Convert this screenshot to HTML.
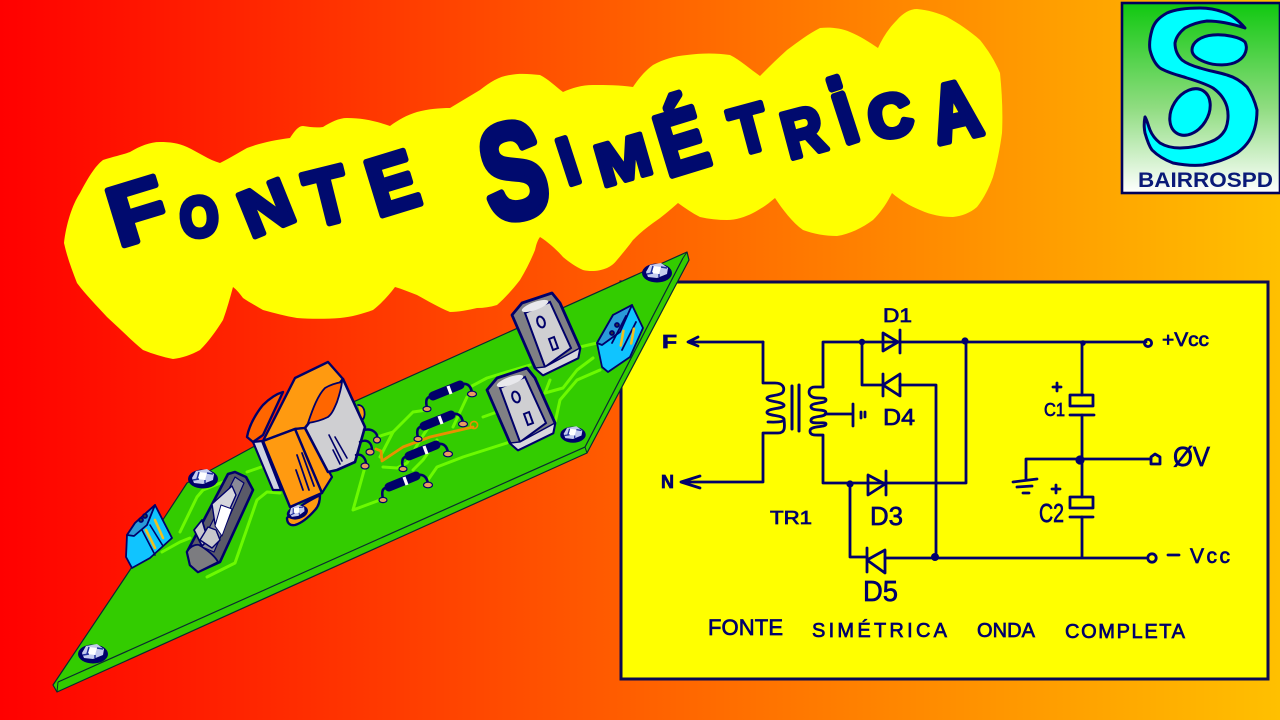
<!DOCTYPE html>
<html><head><meta charset="utf-8"><style>
html,body{margin:0;padding:0;width:1280px;height:720px;overflow:hidden}
svg{display:block}
.w{fill:none;stroke:#00006a;stroke-width:2.8;stroke-linecap:round;stroke-linejoin:round}
.n{fill:#00006a}
.h{font-family:"Liberation Sans",sans-serif;fill:#00006a;stroke:#00006a;stroke-width:.7}
.t{font-family:"Liberation Sans",sans-serif;font-weight:700;font-size:60px;text-anchor:middle;fill:#000a6e;stroke:#000a6e;stroke-width:5;stroke-linejoin:round}
.tr{fill:none;stroke:#6cfa00;stroke-width:3;stroke-linecap:round;stroke-linejoin:round}
.o{stroke:#00006a;stroke-width:1.8;stroke-linejoin:round;stroke-linecap:round}
</style></head><body>
<svg width="1280" height="720" viewBox="0 0 1280 720" xmlns="http://www.w3.org/2000/svg">
<defs>
<linearGradient id="bg" x1="0" x2="1" y1="0" y2="0"><stop offset="0" stop-color="#ff0000"/><stop offset="1" stop-color="#ffc000"/></linearGradient>
<linearGradient id="lg" x1="0" x2="0" y1="0" y2="1"><stop offset="0" stop-color="#10c810"/><stop offset=".55" stop-color="#8fdc80"/><stop offset="1" stop-color="#ffffff"/></linearGradient>
<g id="nut"><ellipse cx="0" cy="2" rx="15" ry="9.5" fill="#00006a"/><path d="M-11,1 L-7,-6 L4,-8 L11,-3 L10,3 L0,7 L-9,6Z" fill="#c4cbee"/><path d="M-4,-5 L4,-4 L2,3 L-6,2Z" fill="#fff"/><path d="M-10,3 L-4,2 M4,-4 L10,-3 M2,3 L2,6 M-4,-5 L-6,2" stroke="#2030a0" stroke-width="1.5" fill="none"/></g>
<g id="res"><path d="M-20,15 C-22,6 -20,4 -15,3 M13,-8 C19,-11 24,-8 25,0" fill="none" stroke="#00006a" stroke-width="2.6" stroke-linecap="round"/><ellipse cx="-20" cy="16" rx="4" ry="2.6" fill="#e89a60" stroke="#00006a" stroke-width="1.2"/><ellipse cx="25" cy="1" rx="4.5" ry="2.8" fill="#e89a60" stroke="#00006a" stroke-width="1.2"/><path d="M-14,3 L13,-8" stroke="#00006a" stroke-width="9" stroke-linecap="round"/><path d="M1,-7 L4,1" stroke="#fff" stroke-width="3.2"/></g>
<g id="cap"><path d="M-34,-19 L-24,-31 L6,-41 L14,-31 L34,14 L32,24 L-3,41 L-11,34Z" fill="#808084" stroke="#00006a" stroke-width="2.8" stroke-linejoin="round"/><path d="M-21,-21 L4,-32 L25,14 L-1,33Z" fill="#cfcfd2" stroke="#00006a" stroke-width="2"/><ellipse cx="-11" cy="-28" rx="14" ry="4" transform="rotate(-20 -11 -28)" fill="#e8e8ec"/><path d="M-11,34 L-3,41 L32,24 L34,14 L-1,33Z" fill="#d8d8dc" stroke="#00006a" stroke-width="1.4"/><ellipse cx="-5" cy="-12" rx="3.6" ry="5.6" transform="rotate(-20 -5 -12)" fill="none" stroke="#00006a" stroke-width="2"/><path d="M3,5 L8,3 L12,14 L7,16Z" fill="none" stroke="#00006a" stroke-width="2"/></g>
</defs>
<rect width="1280" height="720" fill="url(#bg)"/>

<!-- yellow blob -->
<path fill="#ffff00" d="M64,243 C66,225 72,205 80,193 C88,178 95,166 103,160 C115,156 122,155 130,152 C140,146 150,142 160,142 C170,142 178,143 187,147 C198,152 209,160 220,163 C230,158 238,153 247,148 C260,143 275,140 290,138 C294,132 298,126 303,126 C310,127 316,128 323,127 C331,122 339,118 347,118 C362,118 376,121 390,126 C398,120 407,115 417,112 C428,109 440,108 450,108 C460,102 470,96 480,90 C490,82 500,76 510,75 C520,73 530,74 540,75 C548,79 555,86 563,92 C572,88 582,85 593,85 C606,85 620,85 633,87 C639,78 645,71 653,65 C664,59 675,56 687,55 C702,53 716,53 730,55 C740,60 750,69 760,76 C769,67 778,58 787,50 C798,42 808,34 820,28 C830,27 841,28 850,32 C860,36 869,42 878,48 C883,37 889,28 897,20 C903,13 910,9 917,9 C928,10 938,13 947,17 C958,23 970,31 980,40 C988,50 995,61 1000,73 C1002,93 1003,113 1002,133 C1000,148 997,163 993,177 C989,188 984,198 977,207 C970,213 962,216 953,217 C942,217 931,215 920,210 C910,206 900,200 892,193 C887,203 881,212 873,220 C862,228 850,234 837,236 C825,236 814,234 803,230 C792,222 783,210 775,198 C768,204 761,209 753,213 C745,217 736,220 727,220 C718,220 709,219 700,217 C692,213 685,208 678,203 C670,210 662,217 653,223 C646,228 639,234 633,240 C628,247 622,254 617,260 C614,264 611,266 607,268 C600,271 591,272 583,270 C576,267 569,262 563,257 C557,250 548,242 540,237 C537,241 536,246 535,250 C531,260 526,270 520,280 C513,289 505,298 497,305 C490,307 484,308 477,308 C468,310 459,312 450,312 C438,307 428,301 417,295 C409,292 402,289 395,287 C389,295 382,303 373,310 C362,314 351,317 340,318 C326,319 311,319 297,318 C285,316 274,313 263,310 C256,306 249,302 243,298 C240,294 237,290 233,287 C230,298 227,309 223,320 C216,331 209,341 200,350 C191,355 182,358 173,359 C163,357 153,354 143,350 C131,340 119,328 107,317 C97,306 86,295 77,283 C72,270 67,257 64,243Z"/>

<!-- title -->
<g>
<text class="t" y="21.6" transform="translate(137,210) rotate(-17) scale(1.55,1.4)" style="stroke-width:4">F</text>
<text class="t" y="21.6" transform="translate(199,216) rotate(-5) scale(.82,.93)" style="stroke-width:6">O</text>
<text class="t" y="21.6" transform="translate(266,207) rotate(-22) scale(1.2,1.1)" style="stroke-width:4.5">N</text>
<text class="t" y="21.6" transform="translate(327,195) rotate(-14) scale(1.15,1.3)" style="stroke-width:4.5">T</text>
<text class="t" y="21.6" transform="translate(392,182) rotate(-17) scale(1.2,1.35)" style="stroke-width:4.5">E</text>
<text class="t" y="21.6" transform="translate(513,169) rotate(-12) scale(1.6,2.25)" style="stroke-width:3.5">S</text>
<text class="t" y="21.6" transform="translate(568,160) rotate(-18) scale(1,1.12)" style="stroke-width:5">I</text>
<text class="t" y="21.6" transform="translate(623,159) rotate(-16) scale(1.1,1)" style="stroke-width:4.5">M</text>
<text class="t" y="21.6" transform="translate(681,140) rotate(-17) scale(1.2,1.45)" style="stroke-width:4.5">É</text>
<text class="t" y="21.6" transform="translate(749,128) rotate(-15) scale(1,1.1)" style="stroke-width:5">T</text>
<text class="t" y="21.6" transform="translate(803,131) rotate(-15) scale(.95,1.1)" style="stroke-width:5">R</text>
<text class="t" y="21.6" transform="translate(843,110) rotate(-18) scale(1.15,1.5)" style="stroke-width:5">i</text>
<text class="t" y="21.6" transform="translate(890,115) rotate(-12) scale(1,1)" style="stroke-width:6">C</text>
<text class="t" y="21.6" transform="translate(955,110) rotate(-13) scale(1.1,1.35)" style="stroke-width:5">A</text>
</g>

<!-- schematic panel -->
<rect x="621" y="282" width="647" height="397" fill="#ffff00" stroke="#0a0a50" stroke-width="3"/>

<!-- wires -->
<g class="w">
<path d="M763,342 H689 M698,337 L688,342 L698,346"/>
<path d="M763,342 V383 H775 C783,383 785,388 783,392 C781,396 768,395 767,398 C766,402 782,401 784,405 C785,409 768,408 767,412 C766,416 783,415 784,419 C785,423 770,422 768,422 M784,419 C785,428 785,433 778,433 H763 V482 H681 M700,476 L681,482 L700,488"/>
<path d="M792,386 V429 M799,385 V431" stroke-width="3"/>
<path d="M823,387 V342 H1146"/>
<path d="M823,387 H815 C808,387 808,394 811,396 C815,400 826,396 826,400 C826,404 810,402 811,407 C812,412 826,408 826,413 C826,418 810,415 811,421 C812,425 826,421 826,424 C826,428 810,425 810,431 C810,436 816,435 823,435 V483 H966 V342"/>
<path d="M825,414 H853 M853,404 V426 M861,412 V418 M865,412 V417"/>
<path d="M862,342 V385 H883"/><path d="M900,385 H936 V557"/>
<path d="M850,484 V557 H867"/><path d="M885,558 H1146"/>
<path d="M1082,342 V395 M1082,415 V497 M1082,517 V557"/>
<path d="M1026,480 V459 H1151"/>
<path d="M1013,482 L1037,479 M1017,487 L1032,486 M1023,493 L1029,493"/>
<path d="M883,333 V351 L898,342Z M900,330 V353"/>
<path d="M900,374 V396 L883,385Z M883,374 V396"/>
<path d="M868,475 V495 L885,484Z M886,471 V495"/>
<path d="M885,550 V573 L867,560Z M867,548 V572"/>
<rect x="1070" y="395" width="23" height="11"/><path d="M1070,415 H1094"/>
<rect x="1070" y="497" width="23" height="11"/><path d="M1070,517 H1093"/>
<circle cx="1148" cy="343" r="3.6"/><circle cx="1152" cy="558" r="4.2"/>
<path d="M1151,457 L1155,454 L1160,457 V464 H1151Z"/>
<path d="M1057,383 V391 M1053,387 H1061 M1056,485 V493 M1052,489 H1060"/>
<path d="M1168,555 H1179" stroke-width="2.8"/>
</g>
<g class="n"><circle cx="862" cy="342" r="3.2"/><circle cx="850" cy="484" r="3.6"/><circle cx="935" cy="557" r="4"/><circle cx="965" cy="341" r="3.6"/><circle cx="1083" cy="343" r="2.8"/><circle cx="1080" cy="460" r="4.6"/></g>

<!-- schematic labels -->
<g class="h">
<text x="662" y="348" font-size="18" font-weight="700" textLength="15" lengthAdjust="spacingAndGlyphs">F</text>
<text x="661" y="488" font-size="18" font-weight="700" textLength="13" lengthAdjust="spacingAndGlyphs">N</text>
<text x="883" y="322" font-size="19" textLength="29" lengthAdjust="spacingAndGlyphs">D1</text>
<text x="883" y="425" font-size="23" textLength="32" lengthAdjust="spacingAndGlyphs">D4</text>
<text x="870" y="525" font-size="26" textLength="33" lengthAdjust="spacingAndGlyphs">D3</text>
<text x="863" y="601" font-size="29" textLength="35" lengthAdjust="spacingAndGlyphs">D5</text>
<text x="770" y="524" font-size="18" textLength="42" lengthAdjust="spacingAndGlyphs">TR1</text>
<text x="1162" y="346" font-size="19" textLength="47" lengthAdjust="spacingAndGlyphs">+Vcc</text>
<text x="1173" y="466" font-size="28" textLength="37" lengthAdjust="spacingAndGlyphs">ØV</text>
<text x="1190" y="563" font-size="21" textLength="40" lengthAdjust="spacing">Vcc</text>
<text x="1044" y="416" font-size="18" textLength="21" lengthAdjust="spacingAndGlyphs">C1</text>
<text x="1039" y="522" font-size="26" textLength="25" lengthAdjust="spacingAndGlyphs">C2</text>
<text x="708" y="635" font-size="22" textLength="75" lengthAdjust="spacing">FONTE</text>
<text x="812" y="637" font-size="20" textLength="135" lengthAdjust="spacing">SIMÉTRICA</text>
<text x="977" y="637" font-size="20" textLength="58" lengthAdjust="spacing">ONDA</text>
<text x="1065" y="638" font-size="20" textLength="120" lengthAdjust="spacing">COMPLETA</text>
</g>

<!-- PCB -->
<path d="M687,252 L689,260 L587,453 L57,692 L53,685 L130,570 L187,483 L253,447Z" fill="#33cc00" stroke="#0a2a30" stroke-width="1.2" stroke-linejoin="round"/>
<path d="M683,258 L585,447 L58,682" fill="none" stroke="#0a2a30" stroke-width="1.2"/>
<path d="M687,252 L683,258 M587,453 L585,447 M57,692 L58,682" stroke="#0a2a30" stroke-width="1" fill="none"/>

<!-- traces -->
<g class="tr">
<path d="M162,552 L180,542 L190,538"/><path d="M180,532 L197,497 L203,490 L223,482"/><path d="M247,472 L267,465"/>
<path d="M207,577 L235,563 L243,540 L257,500 L267,492 L280,493"/>
<path d="M365,467 L353,510 L380,500"/><path d="M380,457 L393,432 L413,412 L427,410"/><path d="M393,432 L380,436"/>
<path d="M383,467 L397,468 L407,463 L420,440 L430,425"/>
<path d="M428,480 L437,467 L463,457 L510,442"/><path d="M413,470 L423,460 L437,440"/>
<path d="M467,397 L453,427"/><path d="M470,387 L487,378 L530,365"/><path d="M483,417 L497,412"/>
<path d="M545,393 L550,380"/><path d="M545,393 L563,388 L577,370 L593,358"/>
<path d="M555,423 L560,400 L577,380 L600,370"/><path d="M580,347 L597,343"/>
</g>

<!-- orange trace -->
<path d="M376,449 L381,451 L382,461 L403,447 L430,437 L473,427" fill="none" stroke="#e89000" stroke-width="2.8" stroke-linecap="round" stroke-linejoin="round"/>
<circle cx="474" cy="425" r="3.6" fill="none" stroke="#e89000" stroke-width="1.6"/>

<!-- resistors -->
<use href="#res" transform="translate(447,393)"/>
<use href="#res" transform="translate(438,423)"/>
<use href="#res" transform="translate(423,453)"/>
<use href="#res" transform="translate(403,484)"/>

<!-- caps -->
<use href="#cap" transform="translate(546,334)"/>
<use href="#cap" transform="translate(521,409)"/>

<!-- nuts -->
<use href="#nut" transform="translate(657,271)"/>
<use href="#nut" transform="translate(573,433) scale(.85)"/>
<use href="#nut" transform="translate(203,477)"/>
<use href="#nut" transform="translate(93,652)"/>

<!-- transformer -->
<g class="o">
<path d="M287,518 C297,507 310,500 320,495 C320,503 318,507 315,510 C308,518 302,523 295,525 C290,526 287,523 287,518Z" fill="#ff9a10" stroke-width="2.4"/>
<path d="M358,405 C366,405 366,418 362,420" fill="#ff9a10"/>
<path d="M247,437 C250,420 263,405 263,405 C270,398 276,394 283,392 L263,435 L253,442Z" fill="#ff6600" stroke-width="2.4"/>
<path d="M253,442 L262,441 L281,490 L273,490Z" fill="#d0d4e0" stroke-width="2.2"/>
<path d="M263,441 L295,378 L328,362 L343,379 L305,428 L295,429Z" fill="#ff9a10" stroke-width="2.4"/>
<path d="M295,429 L305,428 L332,477 L322,493Z" fill="#ff9a10" stroke-width="2.2"/>
<path d="M263,441 L295,429 L322,493 L290,507Z" fill="#ff9a10" stroke-width="2.4"/>
<path d="M305,428 L343,379 L365,427 L355,462 L337,470 L328,472Z" fill="#cfcfd2" stroke-width="2.6"/>
<path d="M308,423 C313,408 318,395 325,388 C330,385 336,383 342,382 C341,390 339,396 337,402 C334,409 332,414 328,417 C322,420 315,422 308,423Z" fill="#ff6600"/>
<path d="M297,455 L309,490 M302,453 L314,486 M296,470 L303,490" fill="none" stroke-width="1.8"/>
<path d="M329,435 L342,461 M335,437 L347,458 M333,450 L340,464" fill="none" stroke-width="1.6"/>
<g fill="none" stroke-width="2.4"><path d="M364,430 C372,428 378,433 377,438"/><path d="M360,442 C368,438 372,444 372,450"/><path d="M356,455 C363,453 366,460 366,464"/></g>
<ellipse cx="377" cy="440" rx="3.5" ry="3" fill="#e89a60" stroke-width="1.2"/><ellipse cx="370" cy="452" rx="4" ry="3" fill="#e89a60" stroke-width="1.2"/><ellipse cx="365" cy="466" rx="4" ry="3" fill="#e89a60" stroke-width="1.2"/>
</g>
<use href="#nut" transform="translate(297,511) rotate(-15) scale(.72)"/>

<!-- fuse -->
<g class="o">
<path d="M187,552 L228,474 L235,472 L246,477 L253,490 L220,562 L198,572 L190,565Z" fill="#5a5a68" stroke-width="2.6"/>
<path d="M187,552 C190,546 197,543 201,546 C207,550 215,556 218,562 L198,572 L190,565Z" fill="#7c7c80" stroke="#00006a"/>
<path d="M200,546 L235,477 L244,483 L214,552Z" fill="#8a8a98" stroke-width="1.2"/>
<path d="M194,530 L202,520 L208,540 L202,546Z" fill="#c8c8cc"/>
<path d="M212,504 L232,486 L236,495 L225,520 L215,524Z" fill="#d6d6dc" stroke-width="1.4"/>
<path d="M215,526 L221,505 L232,509 L222,536Z" fill="#fff" stroke-width="1"/>
<path d="M208,527 L216,530 L220,540 L212,548 L200,540Z" fill="#c8c8cc" stroke-width="1.4"/>
</g>

<!-- terminal blocks -->
<g class="o" stroke-width="2.4">
<path d="M597,343 L613,315 L632,305 L643,328 L630,357 L608,372 L602,367Z" fill="#10c4ff"/>
<path d="M597,343 L613,315 L632,305 L620,332 L602,345Z" fill="#2a9ad8"/>
<path d="M612,343 L626,316 M622,350 L636,322" fill="none"/>
<circle cx="617" cy="325" r="2" fill="#333"/><circle cx="612" cy="333" r="2" fill="#333"/>
<path d="M621,334 L626,348 M629,327 L634,341" stroke="#f0c020" stroke-width="2.6" fill="none" stroke-linecap="round" transform="rotate(30 628 337)"/>
<path d="M127,535 L135,523 L155,505 L172,538 L150,558 L132,568 L126,557Z" fill="#10c4ff"/>
<path d="M127,535 L135,523 L155,505 L147,525 L134,536Z" fill="#2a9ad8"/>
<path d="M142,530 L155,555 M150,525 L163,546" fill="none" stroke-width="1.6"/>
<circle cx="141" cy="520" r="2" fill="#333"/><circle cx="145" cy="516" r="2" fill="#333"/>
<path d="M146,530 L155,548 M155,520 L163,538" stroke="#f0c020" stroke-width="2.6" fill="none"/>
</g>

<!-- logo -->
<rect x="1122" y="3" width="158" height="190" fill="url(#lg)" stroke="#00005a" stroke-width="2.6"/>
<path fill="#00ffff" stroke="#00006a" stroke-width="3" stroke-linejoin="round" d="M1245,28 C1238,20 1232,15 1223,12 C1215,9 1208,8 1200,8 C1188,8 1176,9 1167,13 C1158,18 1154,23 1152,30 C1150,37 1149,44 1150,50 C1152,58 1155,64 1160,68 C1168,73 1178,75 1187,78 C1197,81 1206,84 1213,88 C1220,93 1225,100 1227,107 C1229,115 1228,124 1225,130 C1221,137 1216,140 1210,142 C1200,146 1190,148 1180,148 C1172,148 1165,146 1160,143 C1155,139 1152,135 1150,130 C1148,125 1147,120 1145,117 C1144,122 1144,128 1145,133 C1147,140 1149,146 1152,150 C1158,156 1165,160 1173,163 C1183,165 1193,166 1203,165 C1215,163 1227,159 1237,153 C1244,148 1250,141 1253,133 C1256,126 1257,118 1257,110 C1255,102 1252,94 1247,87 C1241,81 1234,77 1227,75 C1218,72 1209,71 1200,68 C1193,66 1187,64 1182,60 C1177,55 1175,49 1175,43 C1176,37 1180,32 1185,28 C1192,24 1199,22 1207,21 C1220,21 1233,24 1245,28Z"/>
<path fill="#00ffff" stroke="#00006a" stroke-width="3" d="M1192,50 C1192,42 1201,36 1213,35 C1225,34 1240,37 1245,42 C1248,48 1246,56 1238,61 C1230,66 1215,66 1205,62 C1197,59 1192,55 1192,50Z"/>
<ellipse cx="1190" cy="112" rx="18" ry="25" transform="rotate(32 1190 112)" fill="#00ffff" stroke="#00006a" stroke-width="3"/>
<text x="1138" y="187" font-family="Liberation Sans, sans-serif" font-weight="700" font-size="21" fill="#0a1a78" textLength="135" lengthAdjust="spacingAndGlyphs">BAIRROSPD</text>
</svg>
</body></html>
